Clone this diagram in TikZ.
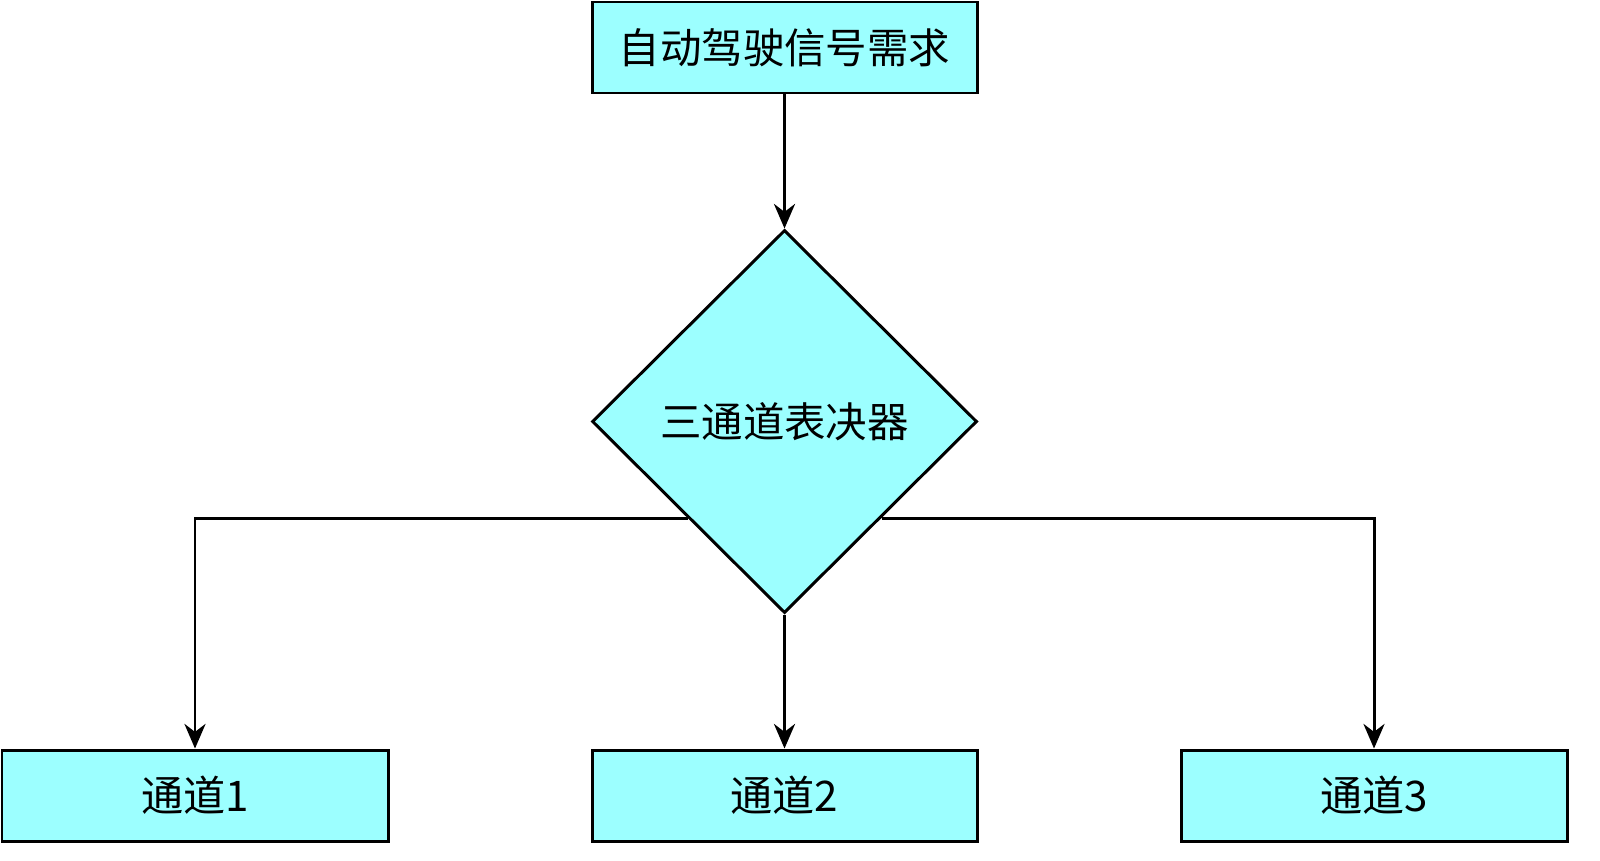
\documentclass[tikz,border=0pt]{standalone}
\usepackage{fontspec}
\setmainfont{Liberation Sans}
\newfontfamily\cjk{Noto Sans CJK SC}
\usetikzlibrary{shapes.geometric,arrows.meta}
\definecolor{boxcyan}{HTML}{9CFFFF}

\begin{document}
\begin{tikzpicture}[line width=0.85pt, >={Stealth[length=7pt,width=6pt]}]
\useasboundingbox (0,0) rectangle (16,-8.6);
\begin{scope}[every node/.style={draw=black,fill=boxcyan,inner sep=0pt,font=\cjk}]
    \node (req)[rectangle,minimum width=3.85cm,minimum height=0.91cm,font=\cjk\fontsize{11.8}{14}\selectfont] at (7.845,-0.475) {自动驾驶信号需求};
    \node (vote)[diamond,aspect=1,minimum width=3.85cm,minimum height=3.83cm,font=\cjk\fontsize{11.8}{14}\selectfont] at (7.845,-4.215) {三通道表决器};
    \node (ch1)[rectangle,minimum width=3.86cm,minimum height=0.91cm,font=\cjk\fontsize{12}{14}\selectfont] at (1.95,-7.955) {通道1};
    \node (ch2)[rectangle,minimum width=3.85cm,minimum height=0.91cm,font=\cjk\fontsize{12}{14}\selectfont] at (7.845,-7.955) {通道2};
    \node (ch3)[rectangle,minimum width=3.86cm,minimum height=0.91cm,font=\cjk\fontsize{12}{14}\selectfont] at (13.74,-7.955) {通道3};
\end{scope}

\begin{scope}[every path/.style={draw=black,->}]
    \path (req.south) -- (vote.north);
    \path (vote.south) -- (ch2.north);
    \path (vote.south west) -| (ch1.north);
    \path (vote.south east) -| (ch3.north);
\end{scope}
\end{tikzpicture}
\end{document}
